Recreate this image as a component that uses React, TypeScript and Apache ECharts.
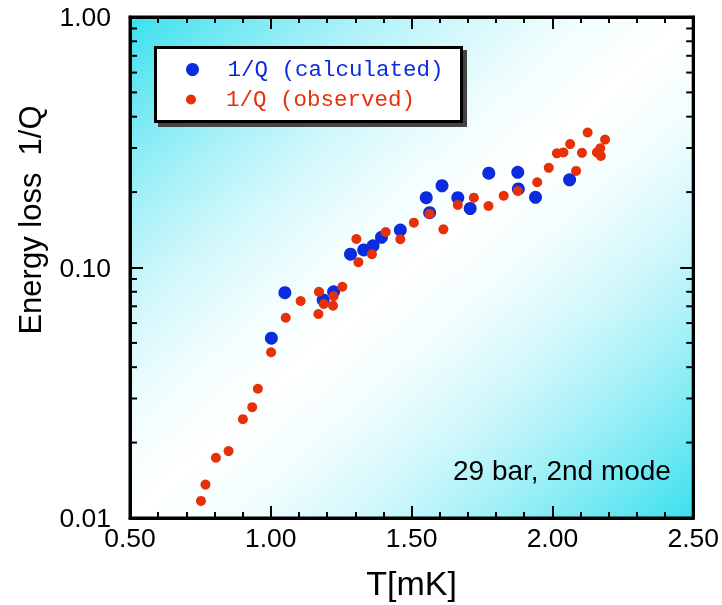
import React, { useEffect, useRef } from "react";
import * as echarts from "echarts";

// Temperature (mK) and energy loss 1/Q, calculated
const T_CALC = [1.002, 1.05, 1.186, 1.223, 1.283, 1.33, 1.363, 1.393, 1.46, 1.552, 1.564, 1.608, 1.664, 1.708, 1.774, 1.877, 1.879, 1.94, 2.061];
const Q_CALC = [0.0522, 0.0793, 0.0742, 0.08, 0.113, 0.1175, 0.122, 0.132, 0.141, 0.19, 0.1655, 0.212, 0.19, 0.172, 0.238, 0.24, 0.206, 0.1906, 0.224];

// Temperature (mK) and energy loss 1/Q, observed
const T_OBS = [0.752, 0.768, 0.805, 0.85, 0.901, 0.934, 0.954, 1.001, 1.053, 1.106, 1.171, 1.169, 1.188, 1.223, 1.221, 1.254, 1.304, 1.311, 1.359, 1.408, 1.46, 1.508, 1.564, 1.613, 1.664, 1.721, 1.773, 1.827, 1.877, 1.946, 1.987, 2.016, 2.039, 2.063, 2.084, 2.105, 2.125, 2.158, 2.17, 2.172, 2.187];
const Q_OBS = [0.0117, 0.0136, 0.0174, 0.0185, 0.0248, 0.0277, 0.0328, 0.0459, 0.063, 0.0735, 0.08, 0.0652, 0.0715, 0.0769, 0.0704, 0.0838, 0.13, 0.105, 0.113, 0.1386, 0.1296, 0.151, 0.1636, 0.142, 0.1777, 0.19, 0.176, 0.1934, 0.202, 0.219, 0.25, 0.2855, 0.288, 0.311, 0.243, 0.287, 0.346, 0.288, 0.299, 0.279, 0.324];

const SERIES_NAMES = ["1/Q (calculated)", "1/Q (observed)"];

// Axis ranges and ticks
const X_MIN = 0.5;
const X_MAX = 2.5;
const X_STEP = 0.5;
const Y_MIN = 0.01;
const Y_MAX = 1;
const Y_MINOR_TICKS = [0.02, 0.03, 0.04, 0.05, 0.06, 0.07, 0.08, 0.09, 0.2, 0.3, 0.4, 0.5, 0.6, 0.7, 0.8, 0.9];

const NOTE = "29 bar, 2nd mode";
const X_TITLE = "T[mK]";
const Y_TITLE = "Energy loss  1/Q";

const BLUE = "#0b2bdf";
const RED = "#e63008";
const SANS = "Liberation Sans, Arial, Helvetica, sans-serif";
const MONO = "Liberation Mono, DejaVu Sans Mono, monospace";

const GRID = { left: 130, top: 17, width: 564, height: 501 };

const bgGradient = {
  type: "linear",
  x: 0,
  y: 0,
  x2: 1,
  y2: 1,
  colorStops: [
    { offset: 0, color: "#3ae0ee" },
    { offset: 0.1, color: "#75e9f3" },
    { offset: 0.2, color: "#a8f1f8" },
    { offset: 0.3, color: "#d2f8fb" },
    { offset: 0.4, color: "#f0fdfe" },
    { offset: 0.5, color: "#ffffff" },
    { offset: 0.6, color: "#f0fdfe" },
    { offset: 0.7, color: "#d2f8fb" },
    { offset: 0.8, color: "#a8f1f8" },
    { offset: 0.9, color: "#75e9f3" },
    { offset: 1, color: "#3ae0ee" },
  ],
};

const fmt2 = (v: number) => v.toFixed(2);

export default function App() {
  const ref = useRef<HTMLDivElement>(null);

  useEffect(() => {
    if (!ref.current) return;
    const chart = echarts.init(ref.current, null, { renderer: "svg" });

    const xAxisBase = {
      type: "value",
      min: X_MIN,
      max: X_MAX,
      interval: X_STEP,
      splitLine: { show: false },
      axisLine: { show: true, onZero: false, lineStyle: { color: "#000", width: 3 } },
      axisTick: { show: true, inside: true, length: 12, lineStyle: { color: "#000", width: 2 } },
      minorTick: { show: true, splitNumber: 5, length: 6, lineStyle: { color: "#000", width: 2 } },
    };
    const yAxisBase = {
      type: "log",
      logBase: 10,
      min: Y_MIN,
      max: Y_MAX,
      splitLine: { show: false },
      axisLine: { show: true, onZero: false, lineStyle: { color: "#000", width: 3 } },
      axisTick: { show: true, inside: true, length: 13, lineStyle: { color: "#000", width: 2 } },
    };

    const legendBase = {
      left: 186,
      padding: 0,
      itemWidth: 60,
      icon: "circle",
      selectedMode: false,
      z: 100,
    };

    chart.setOption({
      animation: false,
      grid: {
        ...GRID,
        show: true,
        backgroundColor: bgGradient,
        borderColor: "#000",
        borderWidth: 3,
      },
      xAxis: [
        {
          ...xAxisBase,
          position: "bottom",
          name: X_TITLE,
          nameLocation: "middle",
          nameGap: 48,
          nameTextStyle: { fontFamily: SANS, fontSize: 34, color: "#000" },
          axisLabel: { fontFamily: SANS, fontSize: 26.5, color: "#000", margin: 6, formatter: fmt2 },
        },
        { ...xAxisBase, position: "top", axisLabel: { show: false } },
      ],
      yAxis: [
        {
          ...yAxisBase,
          position: "left",
          axisLabel: { fontFamily: SANS, fontSize: 26.5, color: "#000", margin: 19, formatter: fmt2 },
        },
        { ...yAxisBase, position: "right", axisLabel: { show: false } },
      ],
      legend: [
        {
          ...legendBase,
          data: [SERIES_NAMES[0]],
          top: 58,
          itemHeight: 13,
          textStyle: { fontFamily: MONO, fontSize: 22.5, lineHeight: 22, color: BLUE },
        },
        {
          ...legendBase,
          data: [SERIES_NAMES[1]],
          top: 88,
          itemHeight: 10,
          textStyle: { fontFamily: MONO, fontSize: 22.5, lineHeight: 22, color: RED },
        },
      ],
      graphic: [
        {
          type: "rect",
          z: 90,
          shape: { x: 159.5, y: 51.5, width: 306, height: 74 },
          style: { fill: "#444", stroke: "#444", lineWidth: 3 },
        },
        {
          type: "rect",
          z: 91,
          shape: { x: 155.5, y: 47.5, width: 306, height: 74 },
          style: { fill: "#fff", stroke: "#000", lineWidth: 3 },
        },
        {
          type: "text",
          z: 92,
          x: 453,
          y: 470,
          style: { text: NOTE, fontFamily: SANS, fontSize: 28, fill: "#000", align: "left", verticalAlign: "middle" },
        },
        {
          type: "text",
          x: 30,
          y: 220,
          rotation: Math.PI / 2,
          style: { text: Y_TITLE, fontFamily: SANS, fontSize: 31, fill: "#000", align: "center", verticalAlign: "middle" },
        },
      ],
      series: [
        {
          name: "yMinorTicks",
          type: "custom",
          silent: true,
          clip: false,
          z: 3,
          data: Y_MINOR_TICKS.map((v) => [X_MIN, v]),
          renderItem: (params: any, api: any) => {
            const cs = params.coordSys;
            const y = api.coord([api.value(0), api.value(1)])[1];
            const len = 7;
            return {
              type: "group",
              children: [
                { type: "line", shape: { x1: cs.x, y1: y, x2: cs.x + len, y2: y }, style: { stroke: "#000", lineWidth: 2 } },
                { type: "line", shape: { x1: cs.x + cs.width - len, y1: y, x2: cs.x + cs.width, y2: y }, style: { stroke: "#000", lineWidth: 2 } },
              ],
            };
          },
        },
        {
          name: SERIES_NAMES[0],
          type: "scatter",
          symbol: "circle",
          symbolSize: 13,
          itemStyle: { color: BLUE, opacity: 1 },
          z: 4,
          data: T_CALC.map((t, i) => [t, Q_CALC[i]]),
        },
        {
          name: SERIES_NAMES[1],
          type: "scatter",
          symbol: "circle",
          symbolSize: 10,
          itemStyle: { color: RED, opacity: 1 },
          z: 5,
          data: T_OBS.map((t, i) => [t, Q_OBS[i]]),
        },
      ],
    });

    return () => chart.dispose();
  }, []);

  return (
    <div
      ref={ref}
      style={{ position: "fixed", left: 0, top: 0, width: 722, height: 605 }}
    />
  );
}
